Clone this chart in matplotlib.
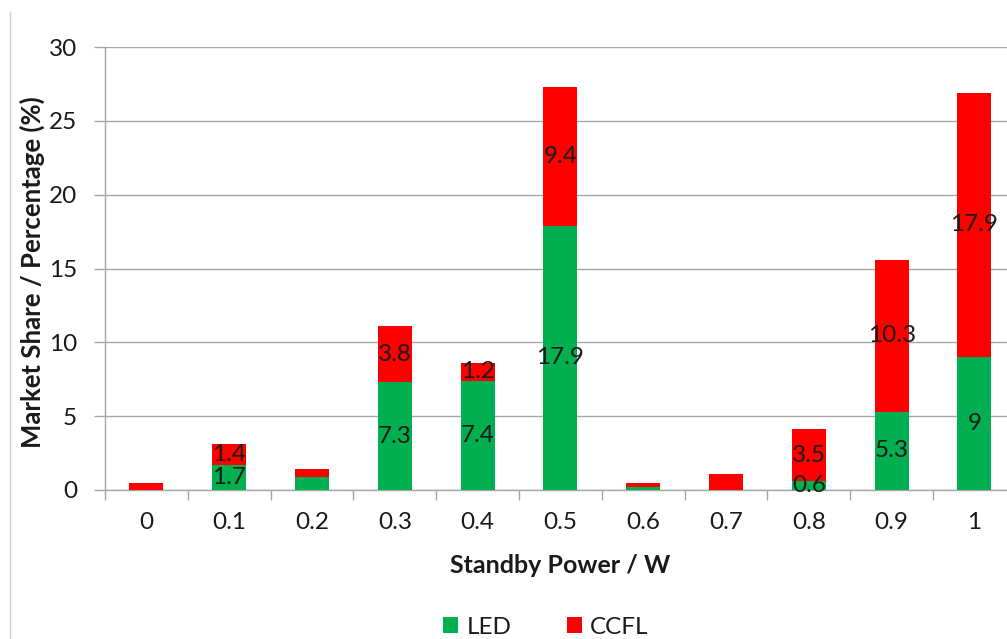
import matplotlib.pyplot as plt
import numpy as np
from matplotlib.lines import Line2D

plt.rcParams['font.family'] = ['Lato', 'DejaVu Sans']

# standby power bins and market share per backlight type
standby = ['0', '0.1', '0.2', '0.3', '0.4', '0.5', '0.6', '0.7', '0.8', '0.9', '1']
led = [0, 1.7, 0.9, 7.3, 7.4, 17.9, 0.2, 0, 0.6, 5.3, 9]
ccfl = [0.5, 1.4, 0.5, 3.8, 1.2, 9.4, 0.3, 1.1, 3.5, 10.3, 17.9]
# which segments get a value label
led_shown = [False, True, False, True, True, True, False, False, True, True, True]
ccfl_shown = [False, True, False, True, True, True, False, False, True, True, True]

green = '#00B050'
red = '#FF0000'
grid_col = '#A6A6A6'
txt_col = '#1a1a1a'
fs = 17.5

fig = plt.figure(figsize=(10.07, 6.39), dpi=100)
ax = fig.add_axes([0.1043, 0.2332, 0.9045, 0.6932])

x = np.arange(len(standby))
w = 0.41
b1 = ax.bar(x, led, w, color=green, label='LED', zorder=3)
b2 = ax.bar(x, ccfl, w, bottom=led, color=red, label='CCFL', zorder=3)

for i in range(len(x)):
    if led_shown[i]:
        ax.text(x[i], led[i] / 2, f'{led[i]:g}', ha='center', va='center',
                fontsize=fs, color=txt_col, zorder=4)
    if ccfl_shown[i]:
        ax.text(x[i], led[i] + ccfl[i] / 2, f'{ccfl[i]:g}', ha='center', va='center',
                fontsize=fs, color=txt_col, zorder=4)

ax.set_xlim(-0.5, 10.5)
ax.set_ylim(0, 30)
ax.set_yticks(np.arange(0, 31, 5))
ax.set_xticks(x)
ax.set_xticklabels([])
ax.set_xticks(np.arange(-0.5, 10.6, 1), minor=True)
ax.tick_params(axis='x', which='major', length=0)
ax.tick_params(axis='x', which='minor', length=7, color=grid_col, width=1)
ax.tick_params(axis='y', length=8, color=grid_col, width=1, pad=12, labelsize=fs, colors=txt_col)
ax.yaxis.grid(True, color=grid_col, linewidth=1, zorder=0)
ax.set_axisbelow(True)
for s in ['top', 'right']:
    ax.spines[s].set_visible(False)
for s in ['left', 'bottom']:
    ax.spines[s].set_color(grid_col)
    ax.spines[s].set_linewidth(1)

# category labels under the axis
for xi, lab in zip(x, standby):
    ax.text(xi, -0.074, lab, transform=ax.get_xaxis_transform(), ha='center', va='center',
            fontsize=fs, color=txt_col, clip_on=False)

ax.set_xlabel('Standby Power / W', fontsize=18, fontweight='bold', color=txt_col, va='center')
ax.set_ylabel('Market Share / Percentage (%)', fontsize=18.5, fontweight='bold', color=txt_col, va='center')
ax.xaxis.set_label_coords(0.5, (490 - 566) / 443)
ax.yaxis.set_label_coords((32 - 105) / 911, (490 - 272) / 443)

fig.legend(handles=[b1, b2], loc='center', bbox_to_anchor=(546 / 1007, 1 - 627 / 639),
           ncol=2, frameon=False, fontsize=fs, handlelength=0.6, handleheight=0.6,
           handletextpad=0.35, columnspacing=2.3, labelcolor=txt_col)

# outer chart border on the left
fig.add_artist(Line2D([10 / 1007, 10 / 1007], [0, 1 - 12 / 639], color='#D0D0D0', linewidth=1))

fig.savefig('out.png', dpi=100)
